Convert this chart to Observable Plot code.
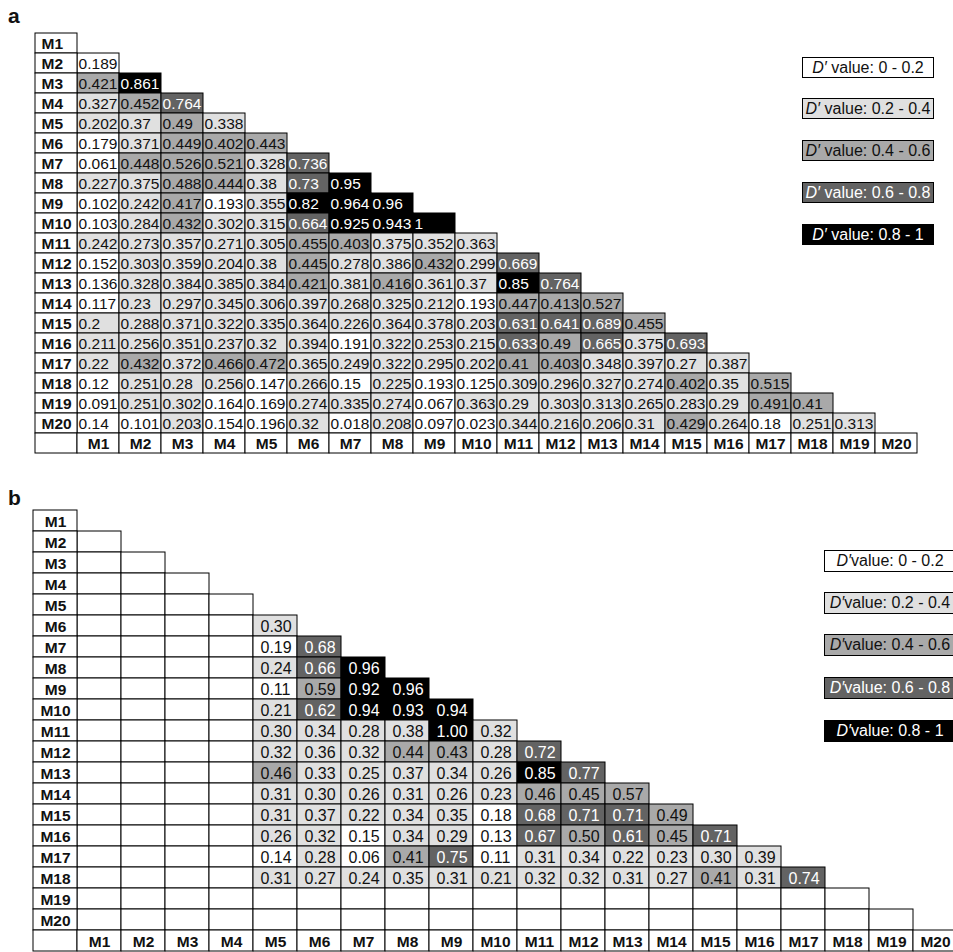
<!DOCTYPE html>
<html><head><meta charset="utf-8">
<script src="https://cdn.jsdelivr.net/npm/d3@7"></script>
<script src="https://cdn.jsdelivr.net/npm/@observablehq/plot@0.6"></script>
<style>
html,body{margin:0;padding:0;background:#fff;overflow:hidden;width:953px;height:952px;}
#root{position:relative;width:953px;height:952px;overflow:hidden;font-family:"Liberation Sans",Arial,Helvetica,sans-serif;color:#111;}
.panel{position:absolute;left:0;}
.panel svg{max-width:none !important;}
.tag{position:absolute;font-weight:bold;font-size:21px;line-height:1;}
.leg{position:absolute;box-sizing:border-box;border:1px solid #000;font-size:16px;text-align:center;white-space:nowrap;}
</style></head><body><div id="root"></div>
<script>
// ---- data ----
const markers = ["M1","M2","M3","M4","M5","M6","M7","M8","M9","M10","M11","M12","M13","M14","M15","M16","M17","M18","M19","M20"];
const labelKey = "label";
const headerKey = "header";

// Panel a: D' values, rows M2..M20, columns M1..M(row-1)
const dprimeA = [
  [0.189],
  [0.421,0.861],
  [0.327,0.452,0.764],
  [0.202,0.37,0.49,0.338],
  [0.179,0.371,0.449,0.402,0.443],
  [0.061,0.448,0.526,0.521,0.328,0.736],
  [0.227,0.375,0.488,0.444,0.38,0.73,0.95],
  [0.102,0.242,0.417,0.193,0.355,0.82,0.964,0.96],
  [0.103,0.284,0.432,0.302,0.315,0.664,0.925,0.943,1],
  [0.242,0.273,0.357,0.271,0.305,0.455,0.403,0.375,0.352,0.363],
  [0.152,0.303,0.359,0.204,0.38,0.445,0.278,0.386,0.432,0.299,0.669],
  [0.136,0.328,0.384,0.385,0.384,0.421,0.381,0.416,0.361,0.37,0.85,0.764],
  [0.117,0.23,0.297,0.345,0.306,0.397,0.268,0.325,0.212,0.193,0.447,0.413,0.527],
  [0.2,0.288,0.371,0.322,0.335,0.364,0.226,0.364,0.378,0.203,0.631,0.641,0.689,0.455],
  [0.211,0.256,0.351,0.237,0.32,0.394,0.191,0.322,0.253,0.215,0.633,0.49,0.665,0.375,0.693],
  [0.22,0.432,0.372,0.466,0.472,0.365,0.249,0.322,0.295,0.202,0.41,0.403,0.348,0.397,0.27,0.387],
  [0.12,0.251,0.28,0.256,0.147,0.266,0.15,0.225,0.193,0.125,0.309,0.296,0.327,0.274,0.402,0.35,0.515],
  [0.091,0.251,0.302,0.164,0.169,0.274,0.335,0.274,0.067,0.363,0.29,0.303,0.313,0.265,0.283,0.29,0.491,0.41],
  [0.14,0.101,0.203,0.154,0.196,0.32,0.018,0.208,0.097,0.023,0.344,0.216,0.206,0.31,0.429,0.264,0.18,0.251,0.313]
];

// Panel b: D' values, rows M6..M18, columns M5..M(row-1)
const dprimeBFirstRow = "M6";
const dprimeBFirstCol = "M5";
const dprimeB = [
  [0.30],
  [0.19,0.68],
  [0.24,0.66,0.96],
  [0.11,0.59,0.92,0.96],
  [0.21,0.62,0.94,0.93,0.94],
  [0.30,0.34,0.28,0.38,1.00,0.32],
  [0.32,0.36,0.32,0.44,0.43,0.28,0.72],
  [0.46,0.33,0.25,0.37,0.34,0.26,0.85,0.77],
  [0.31,0.30,0.26,0.31,0.26,0.23,0.46,0.45,0.57],
  [0.31,0.37,0.22,0.34,0.35,0.18,0.68,0.71,0.71,0.49],
  [0.26,0.32,0.15,0.34,0.29,0.13,0.67,0.50,0.61,0.45,0.71],
  [0.14,0.28,0.06,0.41,0.75,0.11,0.31,0.34,0.22,0.23,0.30,0.39],
  [0.31,0.27,0.24,0.35,0.31,0.21,0.32,0.32,0.31,0.27,0.41,0.31,0.74]
];

const binLabels = ["0 - 0.2","0.2 - 0.4","0.4 - 0.6","0.6 - 0.8","0.8 - 1"];
const binEdges = [0.2,0.4,0.6,0.8];
const binFills = ["#ffffff","#e0e0e0","#a9a9a9","#636363","#000000"];
const binInk = ["#111111","#111111","#111111","#ffffff","#ffffff"];

// ---- helpers ----
function binOf(v){ let k=0; while(k<binEdges.length && v>=binEdges[k]) k++; return k; }

const cellsA = [];
for (let r=1;r<markers.length;r++) for (let c=0;c<r;c++)
  cellsA.push({row:markers[r], col:markers[c], v:dprimeA[r-1][c]});

const r0 = markers.indexOf(dprimeBFirstRow), c0 = markers.indexOf(dprimeBFirstCol);
const cellsB = [];
for (let r=1;r<markers.length;r++) for (let c=0;c<r;c++){
  const rr = r-r0, cc = c-c0;
  const v = (rr>=0 && rr<dprimeB.length && cc>=0 && cc<dprimeB[rr].length) ? dprimeB[rr][cc] : null;
  cellsB.push({row:markers[r], col:markers[c], v});
}

const FONT = '"Liberation Sans",Arial,Helvetica,sans-serif';

function tablePlot(o){
  const filled = o.cells.filter(d=>d.v!=null);
  return Plot.plot({
    width:o.width, height:o.height,
    marginTop:o.mt, marginBottom:o.mb, marginLeft:o.ml, marginRight:o.mr,
    x:{type:"band", domain:[labelKey,...markers], padding:0, axis:null},
    y:{type:"band", domain:[...markers, headerKey], padding:0, axis:null},
    color:{type:"identity"},
    style:{fontFamily:FONT, fontSize:"15px", background:"transparent", overflow:"visible", maxWidth:"none"},
    marks:[
      Plot.cell(o.cells, {x:"col", y:"row", fill:d=>d.v==null?"#ffffff":binFills[binOf(d.v)], stroke:"#000", strokeWidth:1}),
      Plot.cell(markers, {x:()=>labelKey, y:d=>d, fill:"#fff", stroke:"#000", strokeWidth:1}),
      Plot.cell([labelKey,...markers], {x:d=>d, y:()=>headerKey, fill:"#fff", stroke:"#000", strokeWidth:1}),
      Plot.text(filled, {x:"col", y:"row", text:d=>o.fmt(d.v), fill:d=>binInk[binOf(d.v)], textAnchor:"start", dx:o.valueDx, dy:1, fontSize:o.valueSize}),
      Plot.text(markers, {x:()=>labelKey, y:d=>d, text:d=>d, fontWeight:"bold", fontSize:15.5, fill:"#111", textAnchor:o.labelAnchor, dx:o.labelDx, dy:1}),
      Plot.text(markers, {x:d=>d, y:()=>headerKey, text:d=>d, fontWeight:"bold", fontSize:15.5, fill:"#111", dy:1})
    ]
  });
}

const root = document.getElementById("root");

// Panel a
const pa = tablePlot({cells:cellsA, width:953, height:480, mt:29, mb:23, ml:33, mr:34,
  fmt:v=>String(v), valueDx:-19.9, valueSize:15.5, labelAnchor:"start", labelDx:-15});
const wa = document.createElement("div"); wa.className="panel"; wa.style.top="0px"; wa.appendChild(pa); root.appendChild(wa);

// Panel b
const pb = tablePlot({cells:cellsB, width:990, height:480, mt:27, mb:6, ml:33, mr:33,
  fmt:v=>v.toFixed(2), valueDx:-15, valueSize:16, labelAnchor:"middle", labelDx:0});
const wb = document.createElement("div"); wb.className="panel"; wb.style.top="480px"; wb.appendChild(pb); root.appendChild(wb);

// Panel tags
function tag(t,x,y){ const d=document.createElement("div"); d.className="tag"; d.textContent=t; d.style.left=x+"px"; d.style.top=y+"px"; root.appendChild(d); }
tag("a",8,5);
tag("b",8,487);

// Legends
function legend(left, tops, h, gap){
  binLabels.forEach((lab,i)=>{
    const d=document.createElement("div"); d.className="leg";
    d.style.left=left+"px"; d.style.top=tops[i]+"px"; d.style.width="132px"; d.style.height=h+"px";
    d.style.lineHeight=(h-2)+"px"; d.style.background=binFills[i]; d.style.color=binInk[i];
    d.innerHTML="<i>D\u2032</i>"+gap+"value: "+lab;
    root.appendChild(d);
  });
}
legend(802,[57,98,140,182,224],21," ");
legend(824,[550,592,634,677,720],22,"");
</script></body></html>
